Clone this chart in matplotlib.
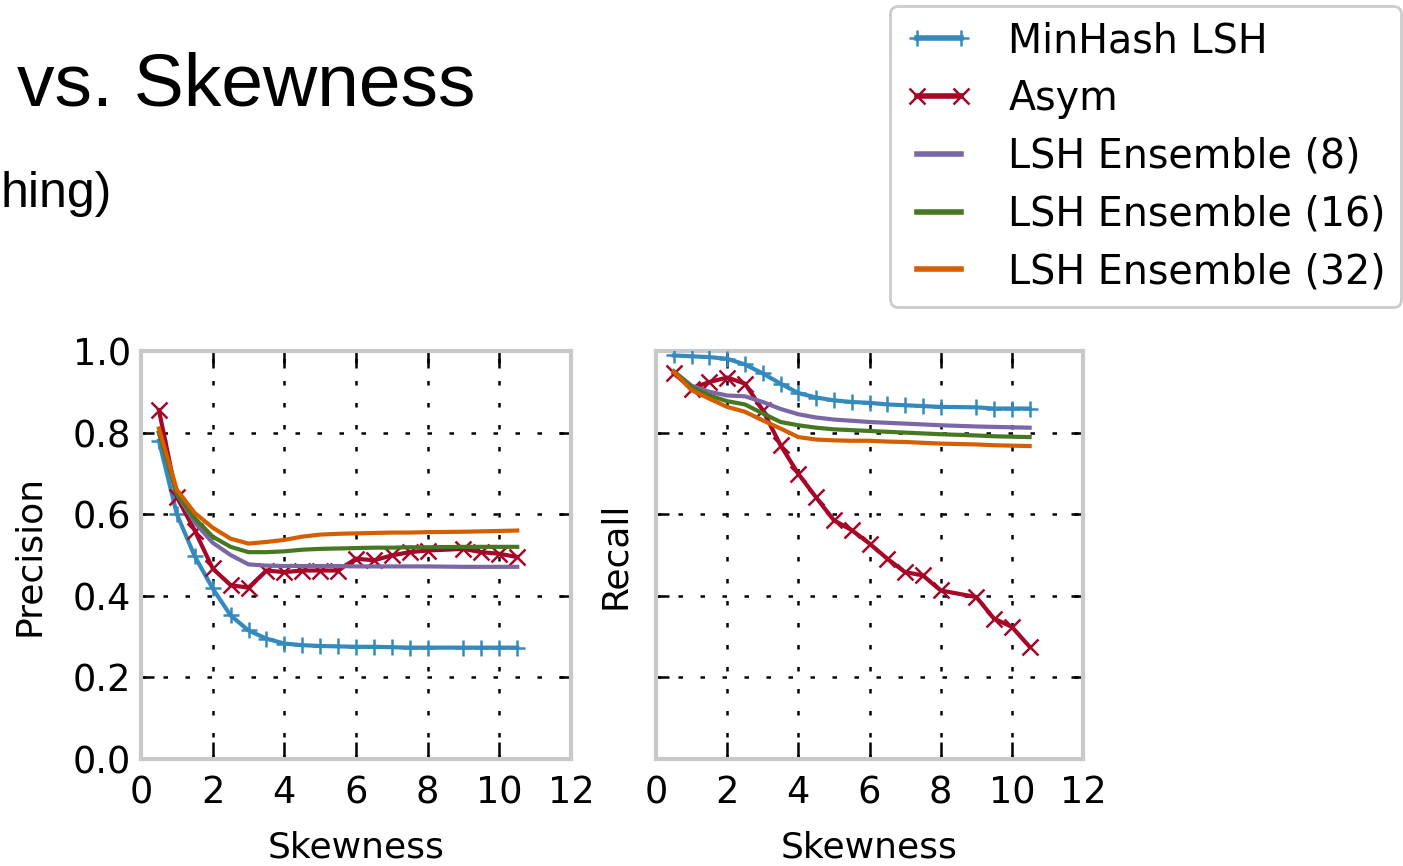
import matplotlib
matplotlib.use("Agg")
import matplotlib.pyplot as plt

# ---- data ----
skewness = [0.5, 1.0, 1.5, 2.0, 2.5, 3.0, 3.5, 4.0, 4.5, 5.0, 5.5, 6.0,
            6.5, 7.0, 7.5, 8.0, 9.0, 9.5, 10.0, 10.5]

series_names = ["MinHash LSH", "Asym", "LSH Ensemble (8)",
                "LSH Ensemble (16)", "LSH Ensemble (32)"]

precision_minhash = [0.78, 0.60, 0.497, 0.418, 0.352, 0.315, 0.295, 0.283, 0.279, 0.277,
                     0.276, 0.275, 0.275, 0.274, 0.273, 0.273, 0.273, 0.273, 0.273, 0.273]
precision_asym = [0.855, 0.642, 0.56, 0.467, 0.426, 0.42, 0.462, 0.458, 0.462, 0.462,
                  0.462, 0.491, 0.487, 0.499, 0.507, 0.511, 0.515, 0.507, 0.503, 0.495]
precision_ens8 = [0.80, 0.65, 0.58, 0.53, 0.50, 0.477, 0.474, 0.473, 0.473, 0.473,
                  0.473, 0.472, 0.472, 0.472, 0.472, 0.472, 0.471, 0.471, 0.471, 0.471]
precision_ens16 = [0.80, 0.65, 0.59, 0.545, 0.52, 0.507, 0.507, 0.509, 0.513, 0.515,
                   0.516, 0.517, 0.518, 0.518, 0.519, 0.519, 0.52, 0.52, 0.52, 0.52]
precision_ens32 = [0.81, 0.66, 0.603, 0.567, 0.54, 0.528, 0.532, 0.537, 0.545, 0.55,
                   0.552, 0.553, 0.554, 0.555, 0.555, 0.556, 0.557, 0.558, 0.559, 0.56]

recall_minhash = [0.989, 0.987, 0.985, 0.981, 0.967, 0.945, 0.920, 0.897, 0.886, 0.879,
                  0.875, 0.873, 0.869, 0.867, 0.865, 0.863, 0.862, 0.859, 0.859, 0.859]
recall_asym = [0.945, 0.908, 0.924, 0.935, 0.920, 0.855, 0.769, 0.699, 0.641, 0.585,
               0.561, 0.528, 0.491, 0.458, 0.450, 0.413, 0.397, 0.344, 0.324, 0.275]
recall_ens8 = [0.95, 0.915, 0.90, 0.891, 0.889, 0.875, 0.858, 0.845, 0.837, 0.832,
               0.829, 0.826, 0.824, 0.822, 0.820, 0.818, 0.815, 0.814, 0.813, 0.812]
recall_ens16 = [0.95, 0.912, 0.891, 0.877, 0.869, 0.847, 0.826, 0.818, 0.812, 0.808,
                0.806, 0.804, 0.802, 0.800, 0.798, 0.796, 0.793, 0.791, 0.790, 0.789]
recall_ens32 = [0.949, 0.904, 0.883, 0.863, 0.851, 0.830, 0.810, 0.789, 0.783, 0.781,
                0.780, 0.780, 0.778, 0.777, 0.775, 0.773, 0.771, 0.769, 0.768, 0.767]

x_ticks = [0, 2, 4, 6, 8, 10, 12]
y_ticks = [0.0, 0.2, 0.4, 0.6, 0.8, 1.0]

colors = ["#348ABD", "#A60628", "#7A68A6", "#467821", "#D55E00"]
markers = ["+", "x", None, None, None]

# ---- figure ----
W, H = 1403, 866
fig = plt.figure(figsize=(W / 100, H / 100), dpi=100)
plt.rcParams["font.family"] = "DejaVu Sans"


def px_axes(left, top, right, bottom):
    return fig.add_axes([left / W, 1 - bottom / H, (right - left) / W, (bottom - top) / H])


ax1 = px_axes(141, 351, 571, 759)
ax2 = px_axes(656, 351, 1083, 759)

panels = [
    (ax1, [precision_minhash, precision_asym, precision_ens8, precision_ens16, precision_ens32], "Precision"),
    (ax2, [recall_minhash, recall_asym, recall_ens8, recall_ens16, recall_ens32], "Recall"),
]

handles = []
for ax, data, ylab in panels:
    hs = []
    for vals, c, m, name in zip(data, colors, markers, series_names):
        h, = ax.plot(skewness, vals, color=c, lw=3.0, marker=m,
                     markersize=11 if m == "x" else 12, markeredgewidth=1.8,
                     label=name, zorder=3)
        hs.append(h)
    handles = hs
    ax.set_xlim(0, 12)
    ax.set_ylim(0, 1.0)
    ax.set_xticks(x_ticks)
    ax.set_yticks(y_ticks)
    ax.grid(True, color="black", linestyle=(0, (1.8, 7.0)), linewidth=1.8, zorder=1)
    for s in ax.spines.values():
        s.set_color("#c8c8c8")
        s.set_linewidth(3)
    ax.tick_params(axis="both", direction="in", top=True, right=True,
                   color="black", width=1.8, labelsize=26.5)
    ax.tick_params(axis="y", length=9, pad=7)
    ax.tick_params(axis="x", length=12, pad=11)
    ax.set_xlabel("Skewness", fontsize=26, labelpad=14)

ax1.set_yticklabels([f"{v:.1f}" for v in y_ticks])
ax1.set_ylabel("Precision", fontsize=26, labelpad=19)
ax2.set_yticklabels([])
ax2.set_ylabel("Recall", fontsize=26, labelpad=10)

leg = fig.legend(handles=handles, labels=series_names, loc="upper right",
                 bbox_to_anchor=(1401 / W, 1 - 6 / H), borderaxespad=0.0,
                 fontsize=28.5, numpoints=2,
                 handlelength=1.7, handletextpad=0.9, labelspacing=0.45,
                 borderpad=0.38, fancybox=True, framealpha=1.0, edgecolor="#cccccc")
leg.get_frame().set_linewidth(2)
for lh in leg.get_lines():
    lh.set_linewidth(4)

# slide text (partially cut off in the reference)
fig.text(17 / W, 1 - 105 / H, "vs. Skewness", fontsize=54,
         family="Liberation Sans", ha="left", va="baseline")
fig.text(0.5 / W, 1 - 207 / H, "hing)", fontsize=36,
         family="Liberation Sans", ha="left", va="baseline")

fig.savefig("out.png", dpi=100)
